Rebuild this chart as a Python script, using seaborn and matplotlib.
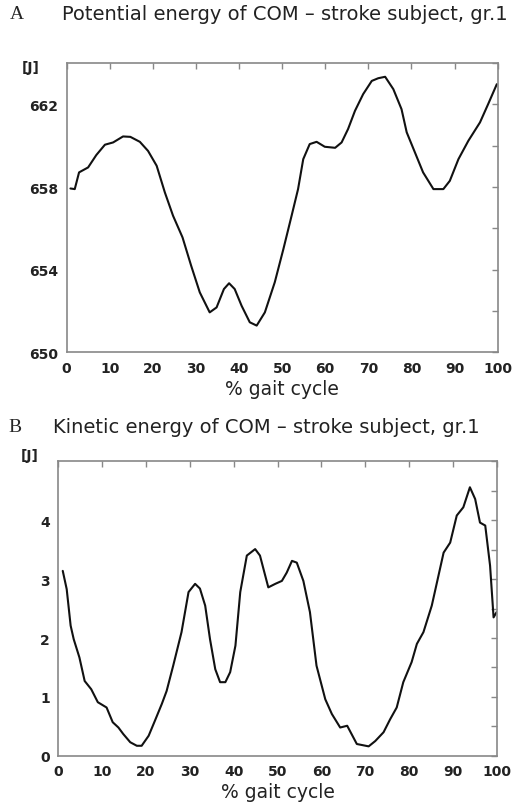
import matplotlib
matplotlib.use("Agg")
import matplotlib.pyplot as plt
import seaborn as sns
import pandas as pd
from matplotlib.ticker import MultipleLocator

# ---- data ----
pe_x = [0.9, 1.9, 2.9, 5.0, 6.9, 8.9, 10.8, 13.1, 14.8, 17.0, 18.9, 20.9, 22.8, 24.7,
        26.9, 28.9, 30.9, 33.2, 34.8, 36.5, 37.7, 39.0, 40.6, 42.5, 44.1, 46.0, 48.3,
        50.3, 52.2, 53.7, 54.9, 56.4, 58.0, 59.9, 62.3, 63.8, 65.3, 66.9, 68.8, 70.8,
        72.3, 73.9, 75.8, 77.7, 78.9, 80.8, 82.7, 85.1, 87.4, 88.9, 90.9, 93.2, 95.9,
        97.8, 99.8]
pe_y = [657.93, 657.90, 658.71, 658.95, 659.55, 660.05, 660.16, 660.45, 660.43, 660.19,
        659.75, 659.03, 657.74, 656.61, 655.56, 654.19, 652.90, 651.93, 652.17, 653.06,
        653.34, 653.06, 652.25, 651.45, 651.29, 651.93, 653.39, 655.00, 656.61, 657.90,
        659.35, 660.08, 660.19, 659.95, 659.90, 660.16, 660.81, 661.69, 662.50, 663.14,
        663.27, 663.34, 662.74, 661.77, 660.65, 659.68, 658.71, 657.90, 657.90, 658.30,
        659.35, 660.24, 661.13, 662.02, 662.98]

ke_x = [1.0, 1.9, 2.8, 3.5, 4.8, 6.0, 7.5, 9.0, 11.0, 12.4, 13.7, 14.8, 16.4, 17.9, 19.0,
        20.6, 22.0, 23.6, 24.7, 26.2, 28.1, 29.7, 31.2, 32.3, 33.5, 34.6, 35.8, 36.9,
        38.1, 39.2, 40.4, 41.5, 43.0, 44.9, 46.0, 47.9, 49.5, 51.0, 52.1, 53.3, 54.4,
        55.9, 57.4, 58.9, 60.9, 62.4, 64.3, 65.9, 68.1, 70.8, 72.3, 74.2, 75.7, 77.2,
        78.7, 80.6, 81.8, 83.3, 85.2, 87.9, 89.4, 90.9, 92.4, 93.9, 95.1, 96.2, 97.4,
        98.5, 99.3, 100.0]
ke_y = [3.14, 2.83, 2.21, 1.98, 1.67, 1.27, 1.13, 0.91, 0.82, 0.57, 0.48, 0.37, 0.23,
        0.17, 0.17, 0.34, 0.59, 0.88, 1.10, 1.53, 2.10, 2.78, 2.92, 2.84, 2.55, 1.98,
        1.47, 1.25, 1.25, 1.42, 1.87, 2.78, 3.40, 3.51, 3.40, 2.86, 2.92, 2.97, 3.11,
        3.31, 3.28, 2.97, 2.44, 1.53, 0.96, 0.71, 0.48, 0.51, 0.20, 0.16, 0.25, 0.40,
        0.62, 0.82, 1.25, 1.59, 1.90, 2.10, 2.55, 3.45, 3.62, 4.08, 4.22, 4.56, 4.36,
        3.96, 3.91, 3.23, 2.35, 2.44]

x_ticks = [0, 10, 20, 30, 40, 50, 60, 70, 80, 90, 100]
pe_yticks = [650, 654, 658, 662]
ke_yticks = [0, 1, 2, 3, 4]
title_a = "Potential energy of COM – stroke subject, gr.1"
title_b = "Kinetic energy of COM – stroke subject, gr.1"
xlabel = "% gait cycle"
unit = "[J]"

sns.set_theme(style="white")
plt.rcParams['font.family'] = ['DejaVu Sans']

fig = plt.figure(figsize=(5.12, 8.12), dpi=100)
ax1 = fig.add_axes([0.130, 0.565, 0.842, 0.356])
ax2 = fig.add_axes([0.114, 0.068, 0.856, 0.3626])

df1 = pd.DataFrame({"x": pe_x, "y": pe_y})
df2 = pd.DataFrame({"x": ke_x, "y": ke_y})
sns.lineplot(data=df1, x="x", y="y", ax=ax1, color="#111111", linewidth=1.5)
sns.lineplot(data=df2, x="x", y="y", ax=ax2, color="#111111", linewidth=1.5)

def style(ax, ylim, yticks, yminor):
    ax.set_xlim(0, 100)
    ax.set_ylim(*ylim)
    ax.set_xticks(x_ticks)
    ax.set_yticks(yticks)
    ax.yaxis.set_minor_locator(MultipleLocator(yminor))
    ax.tick_params(axis="both", which="both", direction="in", top=True, right=True,
                   color="#888888", length=4, width=1, labelsize=10, pad=6)
    ax.tick_params(axis="both", which="minor", length=4)
    for lab in ax.get_xticklabels() + ax.get_yticklabels():
        lab.set_fontweight("bold")
        lab.set_color("#222222")
    for s in ax.spines.values():
        s.set_color("#888888")
        s.set_linewidth(1.2)
    ax.set_xlabel(xlabel, fontsize=13.5, color="#222222", labelpad=3)
    ax.set_ylabel("")

style(ax1, (650, 664), pe_yticks, 2)
style(ax2, (0, 5), ke_yticks, 0.5)

fig.text(0.020, 0.982, "A", fontsize=14, family="Liberation Serif", va="center", ha="left")
fig.text(0.121, 0.982, title_a, fontsize=14, va="center", ha="left", color="#222222")
fig.text(0.016, 0.474, "B", fontsize=14, family="Liberation Serif", va="center", ha="left")
fig.text(0.104, 0.474, title_b, fontsize=14, va="center", ha="left", color="#222222")

fig.text(0.043, 0.916, unit, fontsize=10, fontweight="bold", va="center", ha="left", color="#222222")
fig.text(0.041, 0.439, unit, fontsize=10, fontweight="bold", va="center", ha="left", color="#222222")

fig.savefig("out.png", dpi=100, facecolor="white")
